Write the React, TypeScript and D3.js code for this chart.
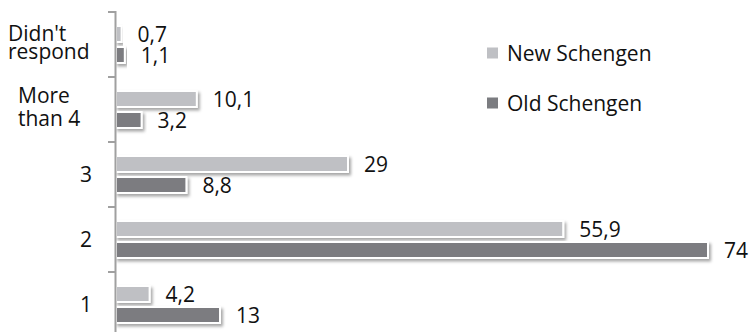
import React from "react";
import * as d3 from "d3";

const categories = ["Didn't respond", "More than 4", "3", "2", "1"];
const categoryLines = [["Didn't", "respond"], ["More", "than 4"], ["3"], ["2"], ["1"]];
const seriesNames = ["New Schengen", "Old Schengen"];
const newSchengen = [0.7, 10.1, 29, 55.9, 4.2];
const oldSchengen = [1.1, 3.2, 8.8, 74, 13];
const valueLabels = [
  ["0,7", "10,1", "29", "55,9", "4,2"],
  ["1,1", "3,2", "8,8", "74", "13"],
];

const W = 755;
const H = 332;
const FONT = "'Open Sans', sans-serif";
const colors = ["#bfc0c4", "#7b7c80"];

export default function App() {
  const x = d3.scaleLinear().domain([0, 80]).range([116, 756]);
  const y = d3.scaleBand<string>().domain(categories).range([12, 337]);
  const sub = d3
    .scaleBand<string>()
    .domain(seriesNames)
    .range([y.bandwidth() / 2 - 21, y.bandwidth() / 2 + 21]);
  const series = [newSchengen, oldSchengen];
  const barH = 16;
  const boundaries = categories.map((c) => y(c) as number).concat([y.range()[1]]);

  return (
    <svg
      width={W}
      height={H}
      style={{ position: "absolute", left: 0, top: 0, background: "#fff" }}
      fontFamily={FONT}
    >
      <defs>
        <filter id="sh" x="-10%" y="-50%" width="130%" height="250%">
          <feDropShadow dx="2" dy="2.5" stdDeviation="1.6" floodColor="#000" floodOpacity="0.35" />
        </filter>
      </defs>
      <rect width={W} height={H} fill="#fff" />

      {series.map((vals, si) =>
        vals.map((v, i) => {
          const c = categories[i];
          const top = (y(c) as number) + (sub(seriesNames[si]) as number) + (sub.bandwidth() - barH) / 2;
          return (
            <g key={`b${si}-${i}`}>
              <rect
                x={x(0)}
                y={top}
                width={x(v) - x(0)}
                height={barH}
                fill={colors[si]}
                stroke="#fff"
                strokeWidth={2}
                filter="url(#sh)"
              />
              <text x={x(v) + 16} y={top + barH / 2 + 7.5} fontSize={21} fill="#111">
                {valueLabels[si][i]}
              </text>
            </g>
          );
        })
      )}

      <line x1={115.5} x2={115.5} y1={11} y2={H} stroke="#a0a0a0" strokeWidth={2} />
      {boundaries.map((b, i) => (
        <line key={`t${i}`} x1={108} x2={116} y1={b} y2={b} stroke="#a0a0a0" strokeWidth={2} />
      ))}

      {categoryLines.map((lines, i) => {
        const c = categories[i];
        const cy = (y(c) as number) + y.bandwidth() / 2;
        if (lines.length === 1) {
          return (
            <text key={`c${i}`} x={92} y={cy + 7.5} fontSize={21} textAnchor="end" fill="#111">
              {lines[0]}
            </text>
          );
        }
        const lx = i === 0 ? 8 : 18;
        const offs = i === 0 ? [-4, 14] : [-7, 16];
        return (
          <text key={`c${i}`} fontSize={21} fill="#111">
            {lines.map((l, j) => (
              <tspan key={j} x={lx} y={cy + offs[j]}>
                {l}
              </tspan>
            ))}
          </text>
        );
      })}

      {seriesNames.map((s, si) => {
        const cy = 53 + si * 50;
        return (
          <g key={`l${si}`}>
            <rect x={487} y={cy - 5.5} width={11} height={11} fill={colors[si]} />
            <text x={507} y={cy + 7.5} fontSize={21} fill="#111">
              {s}
            </text>
          </g>
        );
      })}
    </svg>
  );
}
